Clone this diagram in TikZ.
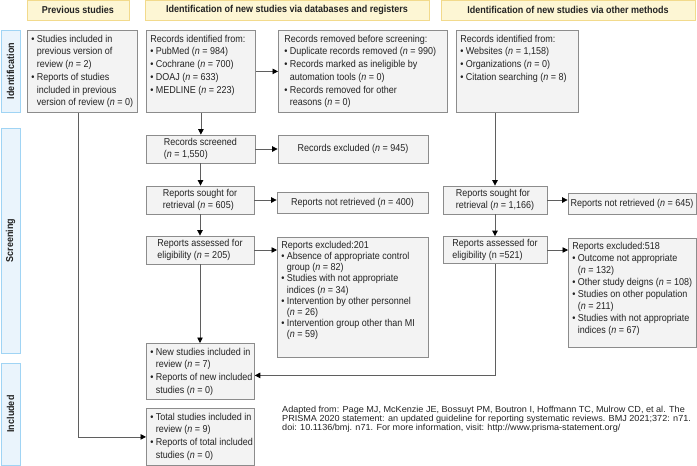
\documentclass[tikz,border=0pt]{standalone}
\usepackage{fontspec}
\usepackage{graphicx}
\setmainfont{Liberation Sans}[FakeStretch=0.9]
\usetikzlibrary{arrows.meta}
\definecolor{boxfill}{RGB}{243,243,243}
\definecolor{boxline}{RGB}{140,140,140}
\definecolor{hdrfill}{RGB}{253,246,212}
\definecolor{hdrline}{RGB}{242,218,140}
\definecolor{phfill}{RGB}{234,244,252}
\definecolor{phline}{RGB}{160,212,244}
\definecolor{txt}{RGB}{35,35,35}
\definecolor{conn}{RGB}{95,95,95}
\newcommand\bu{\makebox[5.5pt][l]{•}}
\newcommand\ind{\hspace*{5.5pt}}
\newcommand\nn{\textit{n}}
\newcommand\tb[3]{\parbox[c][#2][t]{#1}{\begin{tabular}[t]{@{}l@{}}#3\end{tabular}}}
\tikzset{
  every node/.style={font=\fontsize{10}{12.7}\selectfont, text=txt},
  tbox/.style={draw=boxline, fill=boxfill, line width=0.8pt, inner xsep=4pt, inner ysep=3pt, anchor=north west},
  cbox/.style={draw=boxline, fill=boxfill, line width=0.8pt, inner sep=1pt, align=left},
  hdr/.style={draw=hdrline, fill=hdrfill, line width=0.8pt, inner sep=0pt, minimum height=19.5pt, font=\fontsize{10}{12}\selectfont\bfseries},
  phase/.style={draw=phline, fill=phfill, line width=0.8pt, inner sep=0pt, minimum height=19pt, rotate=90, font=\fontsize{10}{12}\selectfont\bfseries},
  arr/.style={draw=conn, line width=0.8pt, -{Triangle[length=5.5pt,width=5.5pt,color=black]}},
  plain/.style={draw=conn, line width=0.8pt}
}
\begin{document}
\begin{tikzpicture}[x=1pt,y=-1pt]
\useasboundingbox (0,0) rectangle (697,466);
% headers
\node[hdr, minimum width=102pt] (h1) at (78,10.25) {Previous studies};
\node[hdr, minimum width=284pt] (h2) at (287,10.25) {Identification of new studies via databases and registers};
\node[hdr, minimum width=254pt] (h3) at (568,10.25) {Identification of new studies via other methods};
% phases
\node[phase, minimum width=82pt] (p1) at (10.5,71) {Identification};
\node[phase, minimum width=225pt] (p2) at (10.5,240.5) {Screening};
\node[phase, minimum width=102pt] (p3) at (10.5,414) {Included};
% identification row
\node[tbox] (prev) at (27,30) {\tb{102pt}{76pt}{\bu Studies included in\\ \ind previous version of\\ \ind review (\nn{} = 2)\\ \bu Reports of studies\\ \ind included in previous\\ \ind version of review (\nn{} = 0)}};
\node[tbox] (dbid) at (146,30) {\tb{101pt}{76pt}{Records identified from:\\ \bu PubMed (\nn{} = 984)\\ \bu Cochrane (\nn{} = 700)\\ \bu DOAJ (\nn{} = 633)\\ \bu MEDLINE (\nn{} = 223)}};
\node[tbox, inner xsep=6pt] (removed) at (278,30) {\tb{157pt}{76pt}{Records removed before screening:\\ \bu Duplicate records removed (\nn{} = 990)\\ \bu Records marked as ineligible by\\ \ind automation tools (\nn{} = 0)\\ \bu Records removed for other\\ \ind reasons (\nn{} = 0)}};
\node[tbox] (othid) at (456,30) {\tb{114pt}{76pt}{Records identified from:\\ \bu Websites (\nn{} = 1,158)\\ \bu Organizations (\nn{} = 0)\\ \bu Citation searching (\nn{} = 8)}};
% screening, databases
\node[cbox, minimum width=109pt, minimum height=28pt] (screened) at (200.5,149) {Records screened\\(\nn{} = 1,550)};
\node[cbox, minimum width=150pt, minimum height=28pt] (excl945) at (353,149) {Records excluded (\nn{} = 945)};
\node[cbox, minimum width=108pt, minimum height=28pt] (sought605) at (200,200) {Reports sought for\\retrieval (\nn{} = 605)};
\node[cbox, minimum width=151pt, minimum height=21pt] (notret400) at (352.5,202.5) {Reports not retrieved (\nn{} = 400)};
\node[cbox, minimum width=108pt, minimum height=28pt] (assessed205) at (200,250) {Reports assessed for\\eligibility (\nn{} = 205)};
\node[tbox, font=\fontsize{10}{11.2}\selectfont] (excl201) at (277,237) {\tb{143pt}{114pt}{Reports excluded:201\\ \bu Absence of appropriate control\\ \ind group (\nn{} = 82)\\ \bu Studies with not appropriate\\ \ind indices (\nn{} = 34)\\ \bu Intervention by other personnel\\ \ind (\nn{} = 26)\\ \bu Intervention group other than MI\\ \ind (\nn{} = 59)}};
% screening, other methods
\node[cbox, minimum width=104pt, minimum height=28pt] (sought1166) at (495,200) {Reports sought for\\retrieval (\nn{} = 1,166)};
\node[cbox, minimum width=128pt, minimum height=21pt] (notret645) at (632,203.5) {Reports not retrieved (\nn{} = 645)};
\node[cbox, minimum width=104pt, minimum height=27pt] (assessed521) at (495,250) {Reports assessed for\\eligibility (n =521)};
\node[tbox, font=\fontsize{10}{11.9}\selectfont] (excl518) at (568,238) {\tb{120pt}{103pt}{Reports excluded:518\\ \bu Outcome not appropriate\\ \ind (\nn{} = 132)\\ \bu Other study deigns (\nn{} = 108)\\ \bu Studies on other population\\ \ind (\nn{} = 211)\\ \bu Studies with not appropriate\\ \ind indices (\nn{} = 67)}};
% included
\node[tbox] (new) at (146,343) {\tb{100pt}{50pt}{\bu New studies included in\\ \ind review (\nn{} = 7)\\ \bu Reports of new included\\ \ind studies (\nn{} = 0)}};
\node[tbox] (total) at (146,408) {\tb{100pt}{51pt}{\bu Total studies included in\\ \ind review (\nn{} = 9)\\ \bu Reports of total included\\ \ind studies (\nn{} = 0)}};
% citation
\node[anchor=north west, inner sep=0pt, font=\fontsize{10.1}{10.1}\selectfont] (cite) at (282,406) {\scalebox{1}[0.87]{\begin{tabular}{@{}l@{}}Adapted from: Page MJ, McKenzie JE, Bossuyt PM, Boutron I, Hoffmann TC, Mulrow CD, et al. The\\PRISMA 2020 statement: an updated guideline for reporting systematic reviews. BMJ 2021;372: n71.\\doi: 10.1136/bmj. n71. For more information, visit: http://www.prisma-statement.org/\end{tabular}}};
% connectors
\draw[arr] (dbid.south) -- (dbid.south |- screened.north);
\draw[arr] (dbid.east) -- (removed.west);
\draw[arr] (screened.east) -- (excl945.west);
\draw[arr] (screened.south) -- (screened.south |- sought605.north);
\draw[arr] (sought605.east) -- (sought605.east -| notret400.west);
\draw[arr] (sought605.south) -- (assessed205.north);
\draw[arr] (assessed205.east) -- (assessed205.east -| excl201.west);
\draw[arr] (assessed205.south) -- (assessed205.south |- new.north);
\draw[arr] (othid.south -| sought1166.north) -- (sought1166.north);
\draw[arr] (sought1166.east) -- (sought1166.east -| notret645.west);
\draw[arr] (sought1166.south) -- (assessed521.north);
\draw[arr] (assessed521.east) -- (assessed521.east -| excl518.west);
\draw[arr] (assessed521.south) |- ([yshift=-4pt]new.east);
\draw[arr] ([xshift=-4pt]prev.south) |- (total.west);
\end{tikzpicture}
\end{document}
